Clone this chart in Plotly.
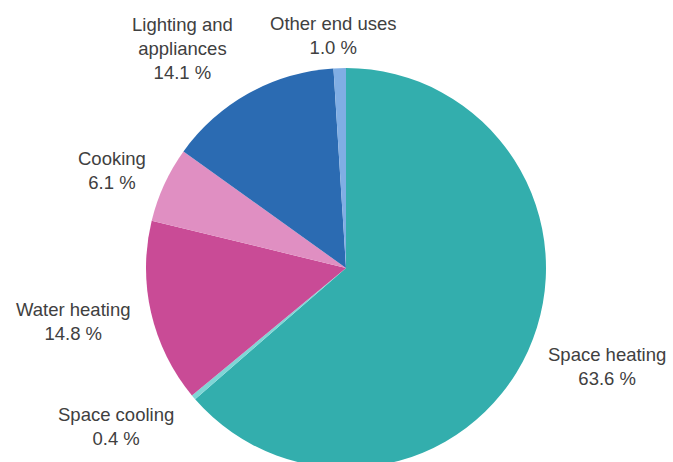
import plotly.graph_objects as go

labels = ["Space heating", "Space cooling", "Water heating", "Cooking",
          "Lighting and appliances", "Other end uses"]
values = [63.6, 0.4, 14.8, 6.1, 14.1, 1.0]
colors = ["#33AEAD", "#7FD6D6", "#C94B96", "#E08FC2", "#2B6BB2", "#80AEE4"]
label_text = ["Space heating<br>63.6 %", "Space cooling<br>0.4 %", "Water heating<br>14.8 %",
              "Cooking<br>6.1 %", "Lighting and<br>appliances<br>14.1 %", "Other end uses<br>1.0 %"]
label_pos = [(607, 366), (116, 426), (73, 321), (112, 170), (183, 49), (333, 36)]

W, H = 673, 480
fig = go.Figure(go.Pie(
    labels=labels, values=values, sort=False, direction="clockwise", rotation=0,
    marker=dict(colors=colors, line=dict(width=0)),
    textinfo="none", hoverinfo="label+percent", showlegend=False,
    domain=dict(x=[146 / W, 546 / W], y=[(H - 468) / H, (H - 68) / H]),
))
for t, (px, py) in zip(label_text, label_pos):
    fig.add_annotation(x=px / W, y=1 - py / H, xref="paper", yref="paper", text=t,
                       showarrow=False, xanchor="center", yanchor="middle",
                       font=dict(family="Liberation Sans, Arial", size=18.5, color="#404040"))
fig.update_layout(width=W, height=H, margin=dict(l=0, r=0, t=0, b=0),
                  paper_bgcolor="white", plot_bgcolor="white")
fig.write_html("out.html")
